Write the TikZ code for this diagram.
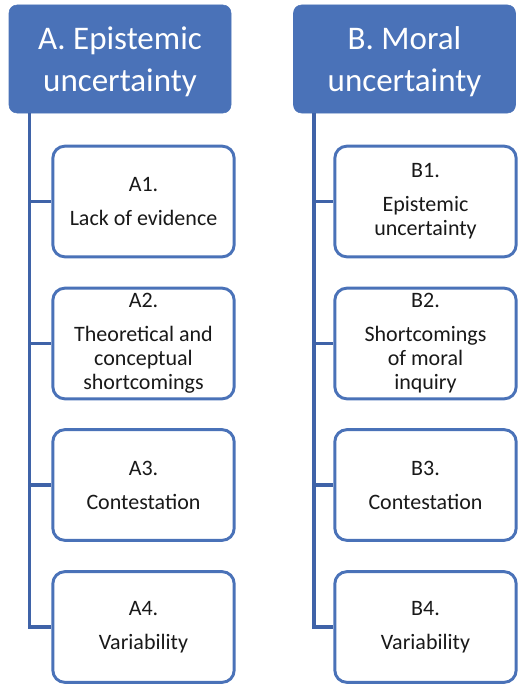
\documentclass[tikz,border=0pt]{standalone}
\usepackage{fontspec}
\setmainfont{Carlito}
\definecolor{hdrblue}{HTML}{4A72B8}
\definecolor{lineblue}{HTML}{3F63A8}
\tikzset{
  header/.style={draw=hdrblue, fill=hdrblue, rounded corners=6pt, text=white,
    minimum width=166.5pt, minimum height=81pt, align=center, text depth=0pt,
    font=\fontsize{24.75}{32}\selectfont},
  item/.style={draw=hdrblue, line width=2.2pt, fill=white, rounded corners=9pt,
    minimum width=136pt, minimum height=83pt, align=center, text=black!90,
    font=\fontsize{16.5}{18}\selectfont},
  conn/.style={draw=lineblue, line width=2.6pt}
}
\begin{document}
\begin{tikzpicture}[x=0.75pt,y=-0.75pt]
\useasboundingbox (0,0) rectangle (518,685);

% Draw the two headers
\node[header] (hA) at (120,59) {A. Epistemic\\uncertainty};
\node[header] (hB) at (404.5,59) {B. Moral\\uncertainty};

% Draw the items of column A
\node[item] (A1) at (143.5,201.5) {A1.\\[7.5pt]Lack of evidence};
\node[item] (A2) at (143.5,343.5) {A2.\\[7.5pt]Theoretical and\\conceptual\\shortcomings};
\node[item] (A3) at (143.5,485) {A3.\\[7.5pt]Contestation};
\node[item] (A4) at (143.5,627) {A4.\\[7.5pt]Variability};

% Draw the items of column B
\node[item] (B1) at (425.5,201.5) {B1.\\[7.5pt]Epistemic\\uncertainty};
\node[item] (B2) at (425.5,343.5) {B2.\\[7.5pt]Shortcomings\\of moral\\inquiry};
\node[item] (B3) at (425.5,485) {B3.\\[7.5pt]Contestation};
\node[item] (B4) at (425.5,627) {B4.\\[7.5pt]Variability};

% Draw the connectors
\foreach \i in {1,...,4} {
  \draw[conn] ([xshift=15.4pt]hA.south west) |- (A\i.west);
  \draw[conn] ([xshift=15.4pt]hB.south west) |- (B\i.west);
}
\end{tikzpicture}
\end{document}
